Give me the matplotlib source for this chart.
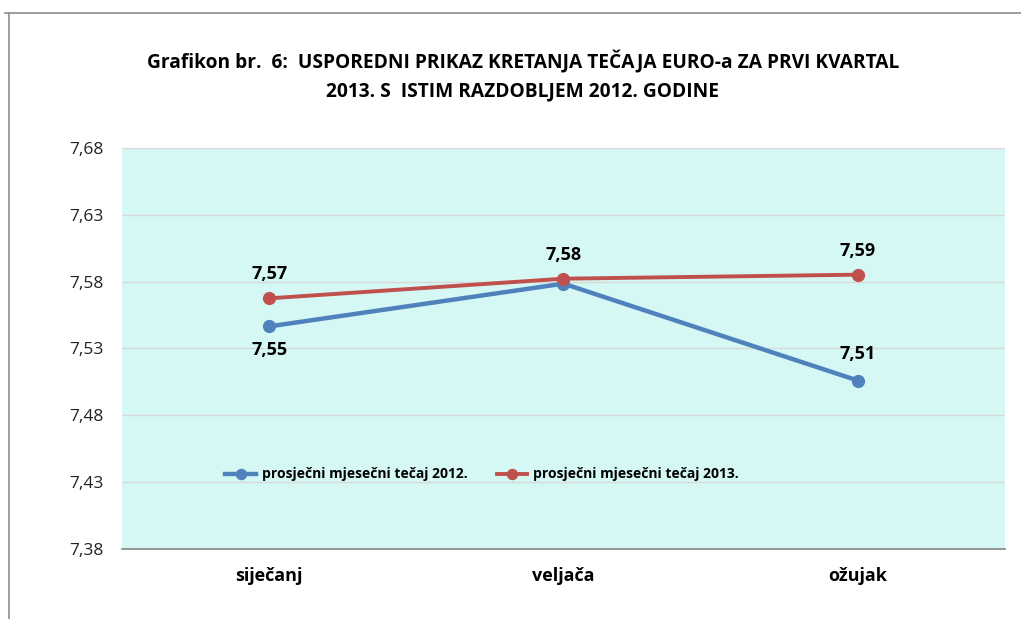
import matplotlib
matplotlib.use("Agg")
import matplotlib.pyplot as plt
from matplotlib.lines import Line2D

categories = ["siječanj", "veljača", "ožujak"]
series_2012 = [7.5465, 7.5785, 7.506]
series_2013 = [7.5675, 7.5822, 7.5852]
label_2012 = "prosječni mjesečni tečaj 2012."
label_2013 = "prosječni mjesečni tečaj 2013."
yticks = [7.38, 7.43, 7.48, 7.53, 7.58, 7.63, 7.68]
title_lines = ["Grafikon br.  6:  USPOREDNI PRIKAZ KRETANJA TEČAJA EURO-a ZA PRVI KVARTAL",
               "2013. S  ISTIM RAZDOBLJEM 2012. GODINE"]
# which data labels are visible, and placement (above/below)
show_2012 = [True, False, True]
pos_2012 = ["below", None, "above"]
show_2013 = [True, True, True]

BLUE = "#4F81BD"
RED = "#C0504D"
BG = "#D5F8F4"
GRID = "#D9D9D9"

lab_font = ["Open Sans", "DejaVu Sans"]

fig = plt.figure(figsize=(10.21, 6.19), dpi=100)
ax = fig.add_axes([0.1195, 0.1131, 0.8648, 0.6479])
ax.set_facecolor(BG)

x = list(range(len(categories)))
ax.plot(x, series_2012, color=BLUE, lw=3.2, marker="o", ms=8.5, label=label_2012, zorder=3)
ax.plot(x, series_2013, color=RED, lw=2.8, marker="o", ms=8.5, label=label_2013, zorder=4)

ax.set_xlim(-0.5, len(categories) - 0.5)
ax.set_ylim(yticks[0], yticks[-1])
ax.set_yticks(yticks)
ax.set_yticklabels([f"{v:.2f}".replace(".", ",") for v in yticks],
                   fontsize=12.5, family=lab_font, color="#222222")
ax.set_xticks(x)
ax.set_xticklabels(categories, fontsize=13, fontweight="bold", family=lab_font)
ax.tick_params(axis="both", length=0)
ax.tick_params(axis="y", pad=13)
ax.tick_params(axis="x", pad=13)
ax.grid(axis="y", color=GRID, lw=1)
ax.set_axisbelow(True)
for s in ["left", "right", "top"]:
    ax.spines[s].set_visible(False)
ax.spines["bottom"].set_color("#868686")
ax.spines["bottom"].set_linewidth(1.2)

def fmt(v):
    return f"{v:.2f}".replace(".", ",")

for i, v in enumerate(series_2012):
    if show_2012[i]:
        dy = -24 if pos_2012[i] == "below" else 27
        ax.annotate(fmt(v), (i, v), xytext=(0, dy), textcoords="offset pixels",
                    ha="center", va="center", fontsize=13, fontweight="bold", family=lab_font)
for i, v in enumerate(series_2013):
    if show_2013[i]:
        ax.annotate(fmt(v), (i, v), xytext=(0, 24), textcoords="offset pixels",
                    ha="center", va="center", fontsize=13, fontweight="bold", family=lab_font)

leg = ax.legend(loc="center left", bbox_to_anchor=(0.103, 0.186), ncol=2, frameon=False,
                handlelength=2.2, columnspacing=2.1, handletextpad=0.43, markerscale=0.85,
                prop={"family": lab_font, "weight": "bold", "size": 10})

fig.text(0.512, 0.9, title_lines[0], ha="center", va="center",
         fontsize=13.8, fontweight="bold", family=lab_font)
fig.text(0.512, 0.853, title_lines[1], ha="center", va="center",
         fontsize=13.8, fontweight="bold", family=lab_font)

# outer frame
fig.add_artist(Line2D([5/1021, 1.0], [1 - 13/619, 1 - 13/619], color="#8C8C8C", lw=1.2,
                      transform=fig.transFigure))
fig.add_artist(Line2D([8.5/1021, 8.5/1021], [0, 1 - 13/619], color="#8C8C8C", lw=1.2,
                      transform=fig.transFigure))

fig.savefig("out.png", dpi=100)
